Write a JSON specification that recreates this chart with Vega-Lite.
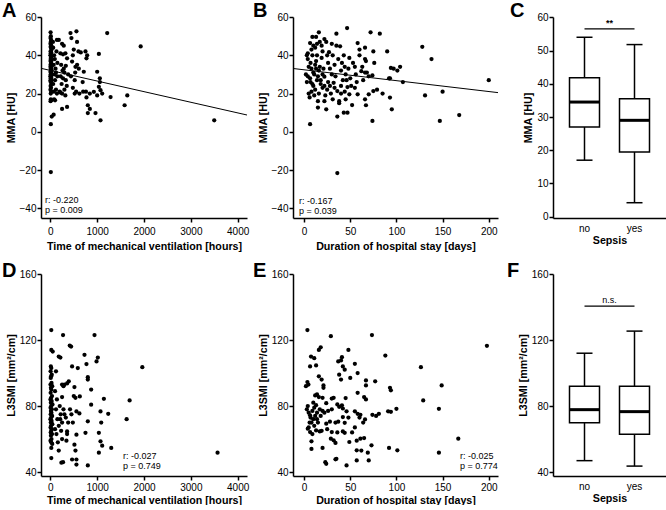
{
"$schema":"https://vega.github.io/schema/vega-lite/v6.json",
"background":"white",
"padding":{"left":2,"top":1,"right":0,"bottom":0},
"columns":3,
"bounds":"flush",
"spacing":{"row":56,"column":46},
"config":{
 "font":"Liberation Sans",
 "view":{"stroke":null},
 "axis":{"domainColor":"black","domainWidth":1.5,"tickColor":"black","tickWidth":1.5,"tickSize":4,"labelColor":"black","labelFontSize":10,"labelFont":"Liberation Sans","titleFont":"Liberation Sans","titleFontSize":10.7,"titleFontWeight":"bold","titleColor":"black","grid":false,"labelPadding":2,"titlePadding":3,"labelOverlap":false},
 "title":{"fontSize":20,"fontWeight":"bold","anchor":"start","frame":"group","color":"black","offset":-9,"font":"Liberation Sans"}
},
"datasets":{
 "mvMma":[
{"hours":5,"mma":52},{"hours":10,"mma":50},{"hours":3,"mma":49},{"hours":15,"mma":48},{"hours":8,"mma":47},{"hours":2,"mma":46},{"hours":20,"mma":45},{"hours":6,"mma":44.5},{"hours":12,"mma":44},{"hours":25,"mma":43},{"hours":4,"mma":42},{"hours":18,"mma":41.5},{"hours":9,"mma":41},{"hours":1,"mma":40},{"hours":22,"mma":39.5},{"hours":14,"mma":39},{"hours":7,"mma":38},{"hours":30,"mma":37.5},{"hours":3,"mma":37},{"hours":16,"mma":36},{"hours":11,"mma":35.5},{"hours":5,"mma":35},{"hours":26,"mma":34.5},{"hours":2,"mma":34},{"hours":19,"mma":33.5},{"hours":8,"mma":33},{"hours":13,"mma":32.5},{"hours":28,"mma":32},{"hours":4,"mma":31.5},{"hours":10,"mma":31},{"hours":17,"mma":30.5},{"hours":6,"mma":30},{"hours":23,"mma":29.5},{"hours":1,"mma":29},{"hours":15,"mma":28.5},{"hours":9,"mma":28},{"hours":20,"mma":27.5},{"hours":3,"mma":27},{"hours":12,"mma":26.5},{"hours":7,"mma":26},{"hours":24,"mma":25},{"hours":5,"mma":24},{"hours":14,"mma":23},{"hours":2,"mma":22},{"hours":18,"mma":21},{"hours":8,"mma":20},{"hours":10,"mma":17},{"hours":20,"mma":16.5},{"hours":4,"mma":16},{"hours":30,"mma":8},{"hours":10,"mma":4},{"hours":10,"mma":-21},
{"hours":60,"mma":44},{"hours":80,"mma":40},{"hours":70,"mma":35},{"hours":90,"mma":30},{"hours":100,"mma":27},{"hours":60,"mma":25},{"hours":120,"mma":22},{"hours":80,"mma":17},{"hours":100,"mma":16.5},{"hours":70,"mma":9},{"hours":140,"mma":48},{"hours":130,"mma":42},{"hours":150,"mma":36},{"hours":110,"mma":33},{"hours":150,"mma":29},{"hours":140,"mma":20},{"hours":55,"mma":47},{"hours":95,"mma":38},{"hours":120,"mma":31},{"hours":75,"mma":21},
{"hours":180,"mma":48},{"hours":250,"mma":46},{"hours":286,"mma":45},{"hours":214,"mma":41},{"hours":321,"mma":41},{"hours":357,"mma":38.4},{"hours":230,"mma":35},{"hours":260,"mma":32},{"hours":300,"mma":31},{"hours":220,"mma":29},{"hours":270,"mma":28},{"hours":330,"mma":27},{"hours":240,"mma":25},{"hours":350,"mma":24},{"hours":300,"mma":22},{"hours":200,"mma":21},{"hours":250,"mma":20},{"hours":320,"mma":19},{"hours":357,"mma":13},{"hours":250,"mma":12},{"hours":214,"mma":20.5},{"hours":286,"mma":33},{"hours":380,"mma":30},{"hours":270,"mma":40.5},{"hours":330,"mma":34.5},
{"hours":430,"mma":51.6},{"hours":557,"mma":52.5},{"hours":450,"mma":49},{"hours":570,"mma":47},{"hours":500,"mma":43},{"hours":464,"mma":36.7},{"hours":571,"mma":35},{"hours":607,"mma":33},{"hours":536,"mma":34},{"hours":480,"mma":40},{"hours":530,"mma":31},{"hours":600,"mma":42},{"hours":650,"mma":41.5},{"hours":520,"mma":27},{"hours":480,"mma":23},{"hours":550,"mma":21},{"hours":620,"mma":20},{"hours":440,"mma":29},{"hours":690,"mma":26},{"hours":520,"mma":20},
{"hours":750,"mma":42},{"hours":786,"mma":40},{"hours":771,"mma":38.4},{"hours":714,"mma":31.4},{"hours":1000,"mma":31.4},{"hours":1057,"mma":28},{"hours":1057,"mma":26},{"hours":1036,"mma":23.5},{"hours":1071,"mma":21.8},{"hours":1107,"mma":20},{"hours":929,"mma":20.9},{"hours":843,"mma":20},{"hours":771,"mma":18},{"hours":1000,"mma":19},{"hours":800,"mma":13.9},{"hours":800,"mma":9.8},{"hours":843,"mma":12},{"hours":964,"mma":9.8},{"hours":1071,"mma":6},{"hours":1036,"mma":40.7},{"hours":760,"mma":21},{"hours":700,"mma":21},
{"hours":1214,"mma":51.6},{"hours":1286,"mma":18.2},{"hours":1643,"mma":19},{"hours":1586,"mma":13.9},{"hours":1929,"mma":44.6},{"hours":3500,"mma":6}
 ],
 "losMma":[
{"days":46.6,"mma":54.2},{"days":16,"mma":52},{"days":72,"mma":52},{"days":82,"mma":51.3},{"days":35,"mma":51.3},{"days":9,"mma":49.6},{"days":13,"mma":49.6},{"days":22,"mma":48.5},{"days":24,"mma":47},{"days":6.5,"mma":46.4},{"days":14,"mma":46},{"days":58,"mma":46.4},{"days":39,"mma":44.7},{"days":60,"mma":43},{"days":66,"mma":44},{"days":128,"mma":44.4},{"days":138,"mma":38},{"days":75,"mma":42},{"days":90,"mma":42},{"days":4,"mma":41},{"days":9,"mma":40},{"days":19,"mma":38.6},{"days":27,"mma":41.6},{"days":43,"mma":40},{"days":49,"mma":38.6},{"days":60,"mma":40},{"days":67,"mma":37},{"days":104,"mma":34},{"days":94,"mma":33.4},{"days":101,"mma":32},{"days":107,"mma":26},{"days":93,"mma":28},{"days":62,"mma":31.7},{"days":66,"mma":31},{"days":74,"mma":29.5},{"days":6.5,"mma":28},{"days":14,"mma":27},{"days":22,"mma":28.8},{"days":32,"mma":25.6},{"days":42,"mma":27},{"days":47,"mma":23.4},{"days":28,"mma":24},{"days":25,"mma":22},{"days":36,"mma":21.3},{"days":75,"mma":21.3},{"days":79,"mma":22},{"days":70,"mma":19.6},{"days":58,"mma":19.6},{"days":49,"mma":19.6},{"days":131,"mma":19},{"days":150,"mma":21},{"days":93,"mma":17.9},{"days":66,"mma":17},{"days":67,"mma":13.9},{"days":15,"mma":16},{"days":22,"mma":16},{"days":15,"mma":12.7},{"days":24,"mma":11.8},{"days":38,"mma":16},{"days":38,"mma":15},{"days":43,"mma":10},{"days":47,"mma":10},{"days":52,"mma":14},{"days":36,"mma":8},{"days":6.5,"mma":4},{"days":74,"mma":5.7},{"days":147,"mma":5.7},{"days":168,"mma":8.8},{"days":95,"mma":11.8},{"days":36,"mma":-21.5},{"days":200,"mma":27},
{"days":3,"mma":40},{"days":4,"mma":38},{"days":5,"mma":34},{"days":7,"mma":36},{"days":8,"mma":33},{"days":10,"mma":31},{"days":11,"mma":30},{"days":12,"mma":35},{"days":13,"mma":37},{"days":15,"mma":29},{"days":16,"mma":32},{"days":17,"mma":34},{"days":18,"mma":27},{"days":20,"mma":30},{"days":21,"mma":33},{"days":12,"mma":44},{"days":8,"mma":43},{"days":10,"mma":45},{"days":17,"mma":47},{"days":19,"mma":45},{"days":26,"mma":36},{"days":28,"mma":33},{"days":30,"mma":30},{"days":31,"mma":40},{"days":33,"mma":35},{"days":34,"mma":29},{"days":35,"mma":45},{"days":37,"mma":38},{"days":40,"mma":32},{"days":41,"mma":36},{"days":44,"mma":34},{"days":45,"mma":30},{"days":46,"mma":27},{"days":48,"mma":33},{"days":50,"mma":28},{"days":5,"mma":20},{"days":6,"mma":18},{"days":8,"mma":21},{"days":10,"mma":24},{"days":12,"mma":22},{"days":16,"mma":20},{"days":18,"mma":25},{"days":20,"mma":23},{"days":23,"mma":19},{"days":26,"mma":26},{"days":29,"mma":20},{"days":31,"mma":17},{"days":33,"mma":23},{"days":40,"mma":24},{"days":44,"mma":21},{"days":4,"mma":29},{"days":3,"mma":26},{"days":7,"mma":26},{"days":9,"mma":25},{"days":11,"mma":19},{"days":13,"mma":33},{"days":2,"mma":30},{"days":14,"mma":40},{"days":20,"mma":42},{"days":30,"mma":46},{"days":55,"mma":34},{"days":56,"mma":30},{"days":57,"mma":26},{"days":63,"mma":34},{"days":64,"mma":27},{"days":68,"mma":31},{"days":70,"mma":29},{"days":53,"mma":36},{"days":51,"mma":24},{"days":66,"mma":38},{"days":40,"mma":20},{"days":45,"mma":17},{"days":55,"mma":23},{"days":85,"mma":20},{"days":97,"mma":33},{"days":92,"mma":28},{"days":76,"mma":36},{"days":25,"mma":40},{"days":22,"mma":24}
 ],
 "mvSmi":[
{"hours":20,"smi":126},{"hours":20,"smi":114},{"hours":50,"smi":113},{"hours":271,"smi":123},{"hours":943,"smi":123},{"hours":179,"smi":110},{"hours":214,"smi":109.4},{"hours":729,"smi":111},{"hours":1014,"smi":109.4},{"hours":986,"smi":107},{"hours":414,"smi":116.6},{"hours":443,"smi":116},{"hours":771,"smi":105.4},{"hours":464,"smi":104},{"hours":586,"smi":103},{"hours":1964,"smi":103.5},{"hours":800,"smi":97.5},{"hours":800,"smi":96},{"hours":393,"smi":95},{"hours":357,"smi":93.7},{"hours":250,"smi":93},{"hours":300,"smi":93},{"hours":514,"smi":91.5},{"hours":871,"smi":90},{"hours":1143,"smi":84.4},{"hours":1693,"smi":83.4},{"hours":629,"smi":85.8},{"hours":536,"smi":85},{"hours":250,"smi":85.4},{"hours":1071,"smi":76.7},{"hours":1236,"smi":75.3},{"hours":871,"smi":80.8},{"hours":557,"smi":76.7},{"hours":620,"smi":75.5},{"hours":1629,"smi":72},{"hours":800,"smi":70.7},{"hours":1086,"smi":70},{"hours":1036,"smi":63.8},{"hours":750,"smi":63.8},{"hours":357,"smi":64.6},{"hours":357,"smi":63},{"hours":557,"smi":62.6},{"hours":250,"smi":60},{"hours":343,"smi":59},{"hours":1071,"smi":58.6},{"hours":1107,"smi":56},{"hours":1300,"smi":54.6},{"hours":514,"smi":56.6},{"hours":536,"smi":53},{"hours":1036,"smi":51.7},{"hours":179,"smi":53},{"hours":464,"smi":47.6},{"hours":557,"smi":47.6},{"hours":271,"smi":46},{"hours":236,"smi":45.7},{"hours":800,"smi":44},{"hours":557,"smi":44.5},{"hours":3571,"smi":51.7},{"hours":20,"smi":48.5},{"hours":20,"smi":54.6},
{"hours":10,"smi":104},{"hours":20,"smi":103},{"hours":5,"smi":101},{"hours":30,"smi":99},{"hours":15,"smi":98},{"hours":8,"smi":97},{"hours":25,"smi":94},{"hours":3,"smi":93},{"hours":40,"smi":92},{"hours":12,"smi":91},{"hours":20,"smi":90},{"hours":6,"smi":88},{"hours":35,"smi":86},{"hours":15,"smi":85},{"hours":2,"smi":84},{"hours":28,"smi":83},{"hours":10,"smi":82},{"hours":45,"smi":81},{"hours":18,"smi":80},{"hours":4,"smi":79},{"hours":32,"smi":78},{"hours":12,"smi":77},{"hours":22,"smi":76},{"hours":7,"smi":75},{"hours":38,"smi":74},{"hours":16,"smi":73},{"hours":1,"smi":72},{"hours":26,"smi":71},{"hours":9,"smi":70},{"hours":42,"smi":69},{"hours":14,"smi":68},{"hours":5,"smi":67},{"hours":30,"smi":66},{"hours":20,"smi":65},{"hours":8,"smi":64},{"hours":36,"smi":63},{"hours":12,"smi":62},{"hours":24,"smi":60},{"hours":3,"smi":59},{"hours":18,"smi":58},{"hours":40,"smi":57},
{"hours":100,"smi":89},{"hours":120,"smi":78},{"hours":150,"smi":72},{"hours":100,"smi":66},{"hours":200,"smi":80},{"hours":220,"smi":75},{"hours":250,"smi":70},{"hours":180,"smi":68},{"hours":130,"smi":63},{"hours":160,"smi":58},{"hours":210,"smi":72},{"hours":280,"smi":78},{"hours":300,"smi":75},{"hours":230,"smi":65},{"hours":140,"smi":84},{"hours":120,"smi":101},{"hours":280,"smi":92},{"hours":330,"smi":73},{"hours":420,"smi":78},{"hours":480,"smi":70},{"hours":500,"smi":86},{"hours":450,"smi":75},{"hours":380,"smi":70}
 ],
 "losSmi":[
{"days":3.6,"smi":126},{"days":29,"smi":122.3},{"days":73.5,"smi":123},{"days":18,"smi":115.6},{"days":16,"smi":114},{"days":48,"smi":114},{"days":7.5,"smi":110},{"days":11,"smi":109},{"days":88,"smi":110.6},{"days":40,"smi":107.6},{"days":37,"smi":107},{"days":41,"smi":109.6},{"days":6.5,"smi":104},{"days":13,"smi":104.6},{"days":55,"smi":105.6},{"days":42,"smi":104},{"days":44,"smi":102},{"days":126.5,"smi":103.5},{"days":58,"smi":100},{"days":16,"smi":98},{"days":19,"smi":96},{"days":38,"smi":99},{"days":40,"smi":96},{"days":50,"smi":97},{"days":3.6,"smi":94.5},{"days":4.7,"smi":93},{"days":149,"smi":92.5},{"days":77,"smi":95},{"days":67,"smi":95.5},{"days":21,"smi":92.5},{"days":21,"smi":91},{"days":67,"smi":92.5},{"days":93,"smi":91},{"days":94,"smi":89.5},{"days":12,"smi":86.4},{"days":14,"smi":87},{"days":16,"smi":85.4},{"days":30,"smi":84.5},{"days":45,"smi":84.8},{"days":65,"smi":85.4},{"days":67,"smi":84},{"days":129,"smi":83.4},{"days":146,"smi":78.3},{"days":4,"smi":80},{"days":13,"smi":80.5},{"days":24,"smi":81.7},{"days":36,"smi":81},{"days":38,"smi":79.5},{"days":41,"smi":80.4},{"days":42,"smi":78.5},{"days":46,"smi":76.8},{"days":55,"smi":76.8},{"days":58,"smi":75.3},{"days":61,"smi":74.7},{"days":74,"smi":74.7},{"days":81,"smi":75.3},{"days":91,"smi":76.8},{"days":94,"smi":76.5},{"days":100,"smi":78.3},{"days":6.5,"smi":74.4},{"days":10,"smi":72},{"days":14,"smi":76},{"days":15,"smi":70},{"days":19,"smi":65},{"days":24,"smi":69.3},{"days":28,"smi":70.5},{"days":34,"smi":70},{"days":37,"smi":70.5},{"days":42,"smi":73.3},{"days":44,"smi":69.8},{"days":55,"smi":67},{"days":66,"smi":71.9},{"days":4,"smi":66.3},{"days":6.5,"smi":64.2},{"days":13,"smi":65.2},{"days":17,"smi":64.6},{"days":30,"smi":64.2},{"days":42,"smi":64.6},{"days":44,"smi":63.8},{"days":65,"smi":60.6},{"days":61,"smi":60.2},{"days":57,"smi":59},{"days":29,"smi":60.2},{"days":32,"smi":59.2},{"days":34,"smi":57.6},{"days":49,"smi":58.2},{"days":8,"smi":58.6},{"days":73,"smi":56.2},{"days":8,"smi":54},{"days":20,"smi":54.6},{"days":57,"smi":53.2},{"days":92,"smi":54.6},{"days":101,"smi":53.2},{"days":62,"smi":53},{"days":69,"smi":51.7},{"days":70,"smi":47},{"days":34,"smi":47.7},{"days":35,"smi":48},{"days":57,"smi":47},{"days":23,"smi":46},{"days":24,"smi":45},{"days":46,"smi":44},{"days":146,"smi":51.7},{"days":167,"smi":60.2},{"days":198,"smi":116.5},
{"days":3,"smi":78},{"days":5,"smi":76},{"days":7,"smi":73},{"days":8,"smi":70},{"days":9,"smi":77},{"days":10,"smi":82},{"days":11,"smi":68},{"days":12,"smi":74},{"days":14,"smi":72},{"days":17,"smi":78},{"days":18,"smi":74},{"days":20,"smi":77},{"days":22,"smi":76},{"days":6,"smi":70},{"days":5,"smi":67},{"days":9,"smi":63},{"days":11,"smi":79},{"days":2,"smi":92},{"days":20,"smi":85},{"days":25,"smi":66},{"days":26,"smi":77},{"days":32,"smi":85},{"days":30,"smi":78},{"days":36,"smi":64},{"days":48,"smi":73},{"days":52,"smi":64},{"days":58,"smi":88},{"days":60,"smi":73},{"days":64,"smi":70},{"days":78,"smi":74}
 ],
 "boxMma":[{"sepsis":"no","lo":17,"q1":27,"med":34.5,"q3":41.8,"hi":54},{"sepsis":"yes","lo":4.2,"q1":19.5,"med":29,"q3":35.5,"hi":51.8}],
 "boxSmi":[{"sepsis":"no","lo":46.9,"q1":69.9,"med":77.8,"q3":92,"hi":112},{"sepsis":"yes","lo":43.6,"q1":62.9,"med":76.6,"q3":92,"hi":125.4}]
},
"concat":[
  {"width":206,"height":201,
   "title":{"text":"A","dx":-39},
   "layer":[
    {"data":{"name":"mvMma"},"mark":{"type":"circle","size":18,"color":"black","opacity":1},
     "encoding":{"x":{"field":"hours","type":"quantitative","scale":{"domain":[-200,4200],"nice":false,"zero":false},"axis":{"values":[0,1000,2000,3000,4000],"format":"d","title":"Time of mechanical ventilation [hours]","labelPadding":4,"titlePadding":5}},
      "y":{"field":"mma","type":"quantitative","scale":{"domain":[-45,60],"nice":false,"zero":false},"axis":{"values":[-40,-20,0,20,40,60],"title":"MMA [HU]","labelPadding":1,"labelOverlap":false}}}},
    {"data":{"values":[{"hours":-200,"mma":33.2},{"hours":4200,"mma":8.8}]},"mark":{"type":"line","color":"black","strokeWidth":1},
     "encoding":{"x":{"field":"hours","type":"quantitative"},"y":{"field":"mma","type":"quantitative"}}},
    {"data":{"values":[{}]},"mark":{"type":"text","align":"left","baseline":"top","fontSize":9,"lineHeight":10.5,"color":"black"},
     "encoding":{"x":{"datum":-115,"type":"quantitative"},"y":{"datum":-33.5,"type":"quantitative"},"text":{"value":["r: -0.220","p = 0.009"]}}}
   ]},
  {"width":205,"height":201,
   "title":{"text":"B","dx":-40},
   "layer":[
    {"data":{"name":"losMma"},"mark":{"type":"circle","size":18,"color":"black","opacity":1},
     "encoding":{"x":{"field":"days","type":"quantitative","scale":{"domain":[-12,210],"nice":false,"zero":false},"axis":{"values":[0,50,100,150,200],"title":"Duration of hospital stay [days]","labelPadding":4,"titlePadding":5}},
      "y":{"field":"mma","type":"quantitative","scale":{"domain":[-45,60],"nice":false,"zero":false},"axis":{"values":[-40,-20,0,20,40,60],"title":"MMA [HU]","labelPadding":1,"labelOverlap":false}}}},
    {"data":{"values":[{"days":-12,"mma":33.1},{"days":210,"mma":20.5}]},"mark":{"type":"line","color":"black","strokeWidth":1},
     "encoding":{"x":{"field":"days","type":"quantitative"},"y":{"field":"mma","type":"quantitative"}}},
    {"data":{"values":[{}]},"mark":{"type":"text","align":"left","baseline":"top","fontSize":9,"lineHeight":10.5,"color":"black"},
     "encoding":{"x":{"datum":-5.5,"type":"quantitative"},"y":{"datum":-34,"type":"quantitative"},"text":{"value":["r: -0.167","p = 0.039"]}}}
   ]},
 {"width":122,"height":201,
  "title":{"text":"C","dx":-34},
  "encoding":{
    "x":{"field":"sepsis","type":"nominal","scale":{"type":"band","domain":["no","yes"],"range":[9,122],"paddingInner":0,"paddingOuter":0.13},"axis":{"title":"Sepsis","labelAngle":0,"ticks":false,"labelPadding":5,"titlePadding":2}}
  },
  "layer":[
   {"data":{"name":"boxMma"},"mark":{"type":"rule","color":"black","strokeWidth":1.5},
    "encoding":{
     "y":{"field":"lo","type":"quantitative","scale":{"domain":[-0.4,60.1],"nice":false,"zero":false},"axis":{"values":[0,10,20,30,40,50,60],"tickCount":7,"title":"MMA [HU]","labelPadding":1,"offset":-9,"labelOverlap":false}},
     "y2":{"field":"hi"}}},
   {"data":{"name":"boxMma"},"mark":{"type":"bar","fill":"white","stroke":"black","strokeWidth":1.5,"width":{"band":0.6}},
    "encoding":{"y":{"field":"q1","type":"quantitative","axis":{"values":[0,10,20,30,40,50,60],"tickCount":7,"title":"MMA [HU]","labelPadding":1,"offset":-9,"labelOverlap":false}},"y2":{"field":"q3"}}},
   {"data":{"name":"boxMma"},"mark":{"type":"tick","color":"black","size":30,"thickness":3,"opacity":1},
    "encoding":{"y":{"field":"med","type":"quantitative","axis":{"values":[0,10,20,30,40,50,60],"tickCount":7,"title":"MMA [HU]","labelPadding":1,"offset":-9,"labelOverlap":false}}}},
   {"data":{"name":"boxMma"},"mark":{"type":"tick","color":"black","size":16,"thickness":1.5,"opacity":1},
    "encoding":{"y":{"field":"lo","type":"quantitative","axis":{"values":[0,10,20,30,40,50,60],"tickCount":7,"title":"MMA [HU]","labelPadding":1,"offset":-9,"labelOverlap":false}}}},
   {"data":{"name":"boxMma"},"mark":{"type":"tick","color":"black","size":16,"thickness":1.5,"opacity":1},
    "encoding":{"y":{"field":"hi","type":"quantitative","axis":{"values":[0,10,20,30,40,50,60],"tickCount":7,"title":"MMA [HU]","labelPadding":1,"offset":-9,"labelOverlap":false}}}},
   {"data":{"values":[{}]},"mark":{"type":"rule","color":"black","strokeWidth":1.2},
    "encoding":{"x":{"datum":"no","type":"nominal","bandPosition":0.5},"x2":{"datum":"yes","bandPosition":0.5},"y":{"datum":56.5,"type":"quantitative"}}},
   {"data":{"values":[{}]},"mark":{"type":"text","align":"center","baseline":"bottom","fontSize":9,"fontWeight":"bold","dy":-1,"color":"black"},
    "encoding":{"x":{"datum":"no","type":"nominal","bandPosition":1},"y":{"datum":56.5,"type":"quantitative"},"text":{"value":"**"}}}
  ]},
  {"width":206,"height":202,
   "title":{"text":"D","dx":-39,"offset":-12},
   "layer":[
    {"data":{"name":"mvSmi"},"mark":{"type":"circle","size":18,"color":"black","opacity":1},
     "encoding":{"x":{"field":"hours","type":"quantitative","scale":{"domain":[-200,4200],"nice":false,"zero":false},"axis":{"values":[0,1000,2000,3000,4000],"format":"d","title":"Time of mechanical ventilation [hours]","labelPadding":2,"titlePadding":3}},
      "y":{"field":"smi","type":"quantitative","scale":{"domain":[37.6,160],"nice":false,"zero":false},"axis":{"values":[40,80,120,160],"title":"L3SMI [mm²/cm]","labelPadding":1,"labelOverlap":false}}}},
    {"data":{"values":[{}]},"mark":{"type":"text","align":"left","baseline":"top","fontSize":9,"lineHeight":10.5,"color":"black"},
     "encoding":{"x":{"datum":1551,"type":"quantitative"},"y":{"datum":52.4,"type":"quantitative"},"text":{"value":["r: -0.027","p = 0.749"]}}}
   ]},
  {"width":205,"height":202,
   "title":{"text":"E","dx":-40,"offset":-12},
   "layer":[
    {"data":{"name":"losSmi"},"mark":{"type":"circle","size":18,"color":"black","opacity":1},
     "encoding":{"x":{"field":"days","type":"quantitative","scale":{"domain":[-12,210],"nice":false,"zero":false},"axis":{"values":[0,50,100,150,200],"title":"Duration of hospital stay [days]","labelPadding":2,"titlePadding":3}},
      "y":{"field":"smi","type":"quantitative","scale":{"domain":[37.6,160],"nice":false,"zero":false},"axis":{"values":[40,80,120,160],"title":"L3SMI [mm²/cm]","labelPadding":1,"labelOverlap":false}}}},
    {"data":{"values":[{}]},"mark":{"type":"text","align":"left","baseline":"top","fontSize":9,"lineHeight":10.5,"color":"black"},
     "encoding":{"x":{"datum":168.8,"type":"quantitative"},"y":{"datum":52.4,"type":"quantitative"},"text":{"value":["r: -0.025","p = 0.774"]}}}
   ]},
 {"width":122,"height":202,
  "title":{"text":"F","dx":-37,"offset":-12},
  "encoding":{
    "x":{"field":"sepsis","type":"nominal","scale":{"type":"band","domain":["no","yes"],"range":[9,122],"paddingInner":0,"paddingOuter":0.13},"axis":{"title":"Sepsis","labelAngle":0,"ticks":false,"labelPadding":5,"titlePadding":2}}
  },
  "layer":[
   {"data":{"name":"boxSmi"},"mark":{"type":"rule","color":"black","strokeWidth":1.5},
    "encoding":{
     "y":{"field":"lo","type":"quantitative","scale":{"domain":[37.6,160],"nice":false,"zero":false},"axis":{"values":[40,80,120,160],"title":"L3SMI [mm²/cm]","labelPadding":1,"offset":-9,"labelOverlap":false}},
     "y2":{"field":"hi"}}},
   {"data":{"name":"boxSmi"},"mark":{"type":"bar","fill":"white","stroke":"black","strokeWidth":1.5,"width":{"band":0.6}},
    "encoding":{"y":{"field":"q1","type":"quantitative","axis":{"values":[40,80,120,160],"title":"L3SMI [mm²/cm]","labelPadding":1,"offset":-9,"labelOverlap":false}},"y2":{"field":"q3"}}},
   {"data":{"name":"boxSmi"},"mark":{"type":"tick","color":"black","size":30,"thickness":3,"opacity":1},
    "encoding":{"y":{"field":"med","type":"quantitative","axis":{"values":[40,80,120,160],"title":"L3SMI [mm²/cm]","labelPadding":1,"offset":-9,"labelOverlap":false}}}},
   {"data":{"name":"boxSmi"},"mark":{"type":"tick","color":"black","size":16,"thickness":1.5,"opacity":1},
    "encoding":{"y":{"field":"lo","type":"quantitative","axis":{"values":[40,80,120,160],"title":"L3SMI [mm²/cm]","labelPadding":1,"offset":-9,"labelOverlap":false}}}},
   {"data":{"name":"boxSmi"},"mark":{"type":"tick","color":"black","size":16,"thickness":1.5,"opacity":1},
    "encoding":{"y":{"field":"hi","type":"quantitative","axis":{"values":[40,80,120,160],"title":"L3SMI [mm²/cm]","labelPadding":1,"offset":-9,"labelOverlap":false}}}},
   {"data":{"values":[{}]},"mark":{"type":"rule","color":"black","strokeWidth":1.2},
    "encoding":{"x":{"datum":"no","type":"nominal","bandPosition":0.5},"x2":{"datum":"yes","bandPosition":0.5},"y":{"datum":140.5,"type":"quantitative"}}},
   {"data":{"values":[{}]},"mark":{"type":"text","align":"center","baseline":"bottom","fontSize":9,"dy":-1,"color":"black"},
    "encoding":{"x":{"datum":"no","type":"nominal","bandPosition":1},"y":{"datum":140.5,"type":"quantitative"},"text":{"value":"n.s."}}}
  ]}
]
}
